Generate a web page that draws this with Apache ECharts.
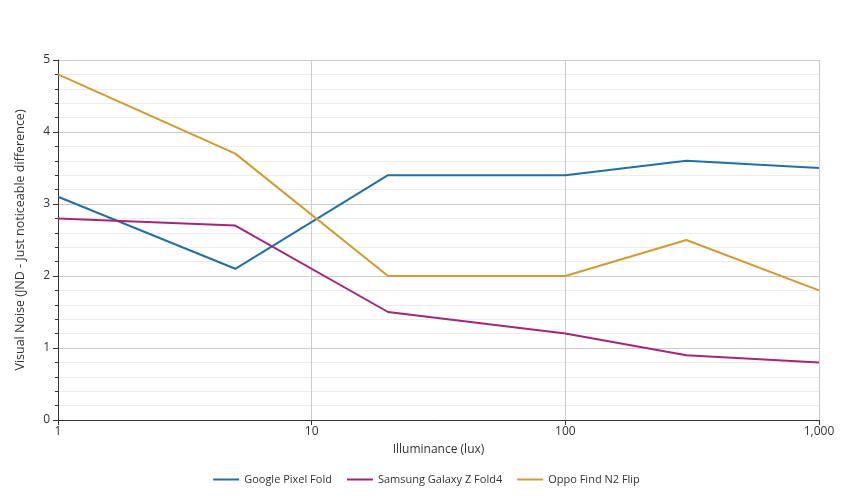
<!DOCTYPE html>
<html><head><meta charset="utf-8">
<script src="https://cdn.jsdelivr.net/npm/echarts@6/dist/echarts.min.js"></script>
<style>html,body{margin:0;padding:0;background:#fff}#c{width:853px;height:500px}</style>
</head><body><div id="c"></div>
<script>
const lux = [1, 5, 20, 100, 300, 1000];
const pixelFold = [3.1, 2.1, 3.4, 3.4, 3.6, 3.5];
const galaxyFold4 = [2.8, 2.7, 1.5, 1.2, 0.9, 0.8];
const findN2Flip = [4.8, 3.7, 2.0, 2.0, 2.5, 1.8];
const seriesNames = ['Google Pixel Fold', 'Samsung Galaxy Z Fold4', 'Oppo Find N2 Flip'];
const colors = ['#2070a8', '#a8237c', '#d49a30'];

const pair = arr => lux.map((x, i) => [x, arr[i]]);
const font = '"Open Sans", "Noto Sans", sans-serif';
const chart = echarts.init(document.getElementById('c'));
chart.setOption({
  animation: false,
  textStyle: {fontFamily: font},
  grid: {left: 58, right: 34, top: 60, bottom: 80},
  legend: {
    bottom: 10, left: 'center', itemWidth: 26, itemHeight: 2, itemGap: 15,
    icon: 'rect',
    textStyle: {fontSize: 11, color: '#333', fontFamily: font},
    data: seriesNames
  },
  xAxis: {
    type: 'log', logBase: 10, min: 1, max: 1000,
    name: 'Illuminance (lux)', nameLocation: 'middle', nameGap: 24,
    nameTextStyle: {fontSize: 12, color: '#333'},
    axisLine: {lineStyle: {color: '#333'}},
    axisTick: {show: true, length: 5, lineStyle: {color: '#333'}},
    axisLabel: {fontSize: 12, color: '#333', margin: 6,
      formatter: v => Number(v).toLocaleString('en-US')},
    splitLine: {show: true, lineStyle: {color: '#ccc'}}
  },
  yAxis: {
    type: 'value', min: 0, max: 5, interval: 1,
    name: 'Visual Noise (JND - Just noticeable difference)', nameLocation: 'middle', nameGap: 31,
    nameTextStyle: {fontSize: 12.5, color: '#333'},
    axisLine: {show: true, lineStyle: {color: '#333'}},
    axisTick: {show: true, length: 5, lineStyle: {color: '#333'}},
    minorTick: {show: true, splitNumber: 5, length: 3, lineStyle: {color: '#333'}},
    axisLabel: {fontSize: 12, color: '#333', margin: 8},
    splitLine: {show: true, lineStyle: {color: '#ccc'}},
    minorSplitLine: {show: true, lineStyle: {color: '#ececec'}}
  },
  series: [pixelFold, galaxyFold4, findN2Flip].map((d, i) => ({
    name: seriesNames[i], type: 'line', data: pair(d),
    showSymbol: false, symbol: 'none',
    lineStyle: {width: 2, color: colors[i]}, itemStyle: {color: colors[i]}
  }))
});
</script></body></html>
